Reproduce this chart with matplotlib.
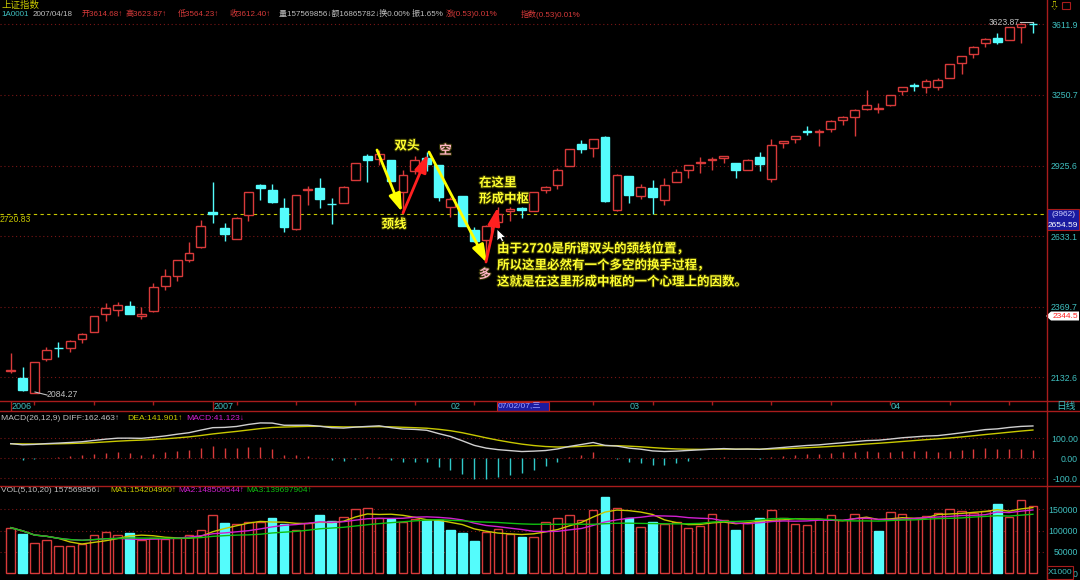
# 上证指数 日线 + MACD + VOL
import numpy as np
import pandas as pd
import matplotlib
matplotlib.use('Agg')
import matplotlib.pyplot as plt
from matplotlib.patches import Rectangle, Polygon
import matplotlib.patheffects as pe

plt.rcParams['font.family'] = ['Liberation Sans', 'Noto Sans CJK SC', 'DejaVu Sans']

# 2006/12/07 ~ 2007/04/18, 87 trading days
opens = [2152, 2132, 2084.27, 2193, 2229, 2229, 2260, 2282, 2345, 2359,
         2374, 2338, 2354, 2443, 2482, 2542, 2589, 2731, 2666, 2622,
         2716, 2841, 2820, 2748, 2660, 2822, 2831, 2764, 2766, 2863,
         2967, 2955, 2948, 2811, 2901, 2960, 2929, 2752, 2794, 2657,
         2617, 2690, 2733, 2744, 2734, 2821, 2841, 2925, 3020, 3005,
         3054, 2737, 2880, 2796, 2831, 2780, 2855, 2905, 2938, 2948,
         2958, 2937, 2908, 2965, 2866, 3025, 3046, 3082, 3076, 3090,
         3131, 3144, 3182, 3184, 3200, 3268, 3298, 3288, 3288, 3334,
         3407, 3457, 3510, 3541, 3527, 3600, 3614.68]
highs = [2211, 2166, 2183, 2232, 2247, 2254, 2279, 2337, 2384, 2386,
         2392, 2368, 2456, 2508, 2541, 2611, 2699, 2853, 2685, 2708,
         2813, 2846, 2845, 2787, 2800, 2838, 2871, 2787, 2836, 2936,
         2975, 2996, 2950, 2908, 2967, 2985, 2930, 2791, 2796, 2671,
         2676, 2752, 2752, 2752, 2812, 2837, 2915, 3000, 3038, 3045,
         3056, 2891, 2881, 2848, 2862, 2870, 2912, 2929, 2965, 2965,
         2968, 2938, 2953, 2984, 3043, 3036, 3059, 3103, 3090, 3129,
         3151, 3185, 3277, 3213, 3252, 3291, 3307, 3328, 3336, 3403,
         3447, 3498, 3537, 3566, 3597, 3617, 3623.87]
lows = [2147, 2089, 2084.27, 2185, 2200, 2215, 2244, 2281, 2320, 2337,
        2343, 2326, 2353, 2429, 2464, 2534, 2588, 2687, 2616, 2621,
        2692, 2777, 2766, 2650, 2659, 2760, 2748, 2682, 2765, 2862,
        2855, 2929, 2858, 2727, 2891, 2900, 2776, 2711, 2672, 2611,
        2550, 2688, 2692, 2706, 2733, 2807, 2824, 2924, 2983, 2964,
        2769, 2735, 2765, 2783, 2721, 2757, 2854, 2873, 2894, 2905,
        2937, 2873, 2907, 2901, 2855, 3005, 3024, 3063, 3012, 3075,
        3108, 3059, 3180, 3162, 3199, 3251, 3268, 3260, 3277, 3333,
        3353, 3434, 3490, 3506, 3526, 3514, 3564.23]
closes = [2155, 2094, 2182, 2222, 2227, 2252, 2277, 2336, 2366, 2376,
          2345, 2346, 2439, 2482, 2540, 2568, 2675, 2721, 2641, 2706,
          2811, 2831, 2772, 2668, 2799, 2826, 2783, 2762, 2835, 2935,
          2952, 2978, 2860, 2883, 2948, 2934, 2790, 2785, 2674, 2613,
          2675, 2720, 2741, 2736, 2811, 2835, 2908, 2998, 3000, 3043,
          2776, 2883, 2799, 2835, 2790, 2842, 2898, 2928, 2941, 2956,
          2967, 2908, 2952, 2933, 3017, 3035, 3058, 3076, 3079, 3128,
          3144, 3177, 3200, 3186, 3251, 3290, 3295, 3321, 3324, 3402,
          3446, 3493, 3532, 3520, 3595, 3611.87, 3612.40]
# 成交量 (x1000)
volumes = [106600, 91800, 70000, 77800, 63100, 63100, 68500, 88700, 97300, 88700,
           93400, 77800, 81700, 79400, 81700, 88700, 100400, 135400, 116700, 114400,
           119100, 120600, 128400, 115200, 100400, 116700, 136200, 123000, 132300, 149500,
           152600, 130000, 126100, 119100, 126100, 124500, 124500, 101200, 93400, 75500,
           97300, 102700, 91800, 85600, 84100, 120000, 129000, 136000, 124500, 148000,
           178000, 152500, 129000, 108000, 120000, 115000, 120000, 106000, 110000, 138000,
           124500, 101000, 117500, 129000, 148000, 129000, 115000, 112000, 128000, 136000,
           124000, 138000, 130000, 100000, 144000, 138000, 130000, 135000, 140000, 150000,
           145000, 142000, 145600, 161200, 132300, 171300, 157570]

# MACD state before the first visible day (read from the left edge of the MACD pane)
ema12_start, ema26_start, dea_start = 2085.0, 2012.0, 73.0

date_labels = ['2006', '2007', '02', '03', '04']
date_label_idx = [0, 17, 37, 52, 74]
week_idx = [2, 7, 12, 19, 24, 29, 34, 39, 44, 49, 54, 59, 64, 69, 74, 79, 84]
price_ticks = [3611.9, 3250.7, 2925.6, 2633.1, 2369.7, 2132.6]
macd_ticks = [100, 0, -100]
macd_tick_labels = ['100.00', '0.00', '-100.0']
vol_ticks = [150000, 100000, 50000, 0]
neck_line = 2720.83

W, H = 1080, 580
RED = '#d83a3a'
CYAN = '#54fcfc'
GRID = '#7a1616'
FRAME = '#a81c1c'
TEAL = '#3fbfbf'
YEL = '#c8c800'
GREY = '#c0c0c0'
XL = (-0.9, 87.1)

n = len(closes)
idx = np.arange(n)


def rect(x0, y0, x1, y1):
    return [x0 / W, 1 - y1 / H, (x1 - x0) / W, (y1 - y0) / H]


def fp(x, y):
    return (x / W, 1 - y / H)


fig = plt.figure(figsize=(W / 100, H / 100), dpi=100, facecolor='black')


def make_ax(box):
    ax = fig.add_axes(rect(*box))
    ax.set_facecolor('black')
    for s in ax.spines.values():
        s.set_visible(False)
    ax.set_xlim(*XL)
    ax.set_xticks([])
    ax.yaxis.tick_right()
    ax.tick_params(axis='y', which='both', length=0, pad=23, labelsize=6.3, labelcolor=TEAL)
    return ax


def right_labels(ax, ticks, labels):
    ax.set_yticks(ticks)
    ax.set_yticklabels(labels)
    for t in ax.get_yticklabels():
        t.set_horizontalalignment('right')


# ---------------- K线 ----------------
ax_p = make_ax((0, 19, 1046, 400))
ax_p.set_yscale('log')
ax_p.set_ylim(2062, 3640.6)
ax_p.yaxis.set_minor_locator(matplotlib.ticker.NullLocator())
right_labels(ax_p, price_ticks, ['%.1f' % v for v in price_ticks])
for v in price_ticks:
    ax_p.axhline(v, color=GRID, lw=0.8, ls=(0, (1, 2.5)), zorder=0)
ax_p.axhline(neck_line, color=YEL, lw=0.8, ls=(0, (3, 3)), zorder=1)

up = [c >= o for o, c in zip(opens, closes)]
ax_p.vlines(idx, lows, highs, colors=[RED if u else CYAN for u in up], lw=1, zorder=2)
for i in idx:
    o, c = opens[i], closes[i]
    bottom = min(o, c)
    hgt = max(abs(c - o), 0.6)
    if up[i]:
        ax_p.add_patch(Rectangle((i - 0.37, bottom), 0.74, hgt, facecolor='black',
                                 edgecolor=RED, lw=1, zorder=3))
    else:
        ax_p.add_patch(Rectangle((i - 0.37, bottom), 0.74, hgt, facecolor=CYAN,
                                 edgecolor=CYAN, lw=1, zorder=3))

# ---------------- 日期条 ----------------
ax_d = make_ax((0, 401, 1046, 411))
ax_d.set_ylim(0, 1)
ax_d.set_yticks([])
ax_d.vlines(week_idx, 0.6, 1, color=FRAME, lw=1)
ax_d.vlines([0, 17], 0, 1, color=FRAME, lw=1)
for lab, i in zip(date_labels, date_label_idx):
    ax_d.text(i + 0.05, 0.45, lab, color=TEAL, fontsize=6.5, ha='left', va='center')

# ---------------- MACD ----------------
def ema(vals, span, start):
    out, prev = [], start
    for v in vals:
        prev = (2 * v + (span - 1) * prev) / (span + 1)
        out.append(prev)
    return np.array(out)


diff = ema(closes, 12, ema12_start) - ema(closes, 26, ema26_start)
dea = ema(diff, 9, dea_start)
macd = 2 * (diff - dea)

ax_m = make_ax((0, 411, 1046, 485))
ax_m.set_ylim(-133.5, 236.5)
right_labels(ax_m, macd_ticks, macd_tick_labels)
for v in macd_ticks:
    ax_m.axhline(v, color=GRID, lw=0.8, ls=(0, (1, 2.5)), zorder=0)
ax_m.vlines(idx, 0, macd, colors=[RED if m >= 0 else '#30c8c8' for m in macd], lw=1)
ax_m.plot(idx, dea, color=YEL, lw=1)
ax_m.plot(idx, diff, color='#d0d0d0', lw=1)

# ---------------- VOL ----------------
ax_v = make_ax((0, 486, 1046, 580))
ax_v.set_ylim(-15650, 204000)
right_labels(ax_v, vol_ticks, [str(v) for v in vol_ticks])
for v in vol_ticks[:-1]:
    ax_v.axhline(v, color=GRID, lw=0.8, ls=(0, (1, 2.5)), zorder=0)
vol_up = [True] + [closes[i] >= closes[i - 1] for i in range(1, n)]
ax_v.bar(idx, volumes, width=0.72, bottom=0,
         facecolor=['black' if u else CYAN for u in vol_up],
         edgecolor=[RED if u else CYAN for u in vol_up], lw=1, zorder=2)
vs = pd.Series(volumes, dtype=float)
ax_v.plot(idx, vs.rolling(5, min_periods=1).mean(), color=YEL, lw=1, zorder=3)
ax_v.plot(idx, vs.rolling(10, min_periods=1).mean(), color='#d020d0', lw=1, zorder=3)
ax_v.plot(idx, vs.rolling(20, min_periods=1).mean(), color='#10c010', lw=1, zorder=3)

# ---------------- 框线 ----------------
def fline(x0, y0, x1, y1, color=FRAME, lw=1.0):
    fig.add_artist(plt.Line2D([x0 / W, x1 / W], [1 - y0 / H, 1 - y1 / H],
                              transform=fig.transFigure, color=color, lw=lw))


def poly(pts, **kw):
    fig.add_artist(Polygon([fp(x, y) for x, y in pts], closed=True,
                           transform=fig.transFigure, **kw))


fline(1046.5, 0, 1046.5, 580)
fline(0, 401, 1080, 401)
fline(0, 411, 1080, 411)
fline(0, 486, 1080, 486)

# 表头
def ftext(x, y, s, color, size=5.8, **kw):
    fig.text(x / W, 1 - y / H, s, color=color, fontsize=size, va='center', ha=kw.pop('ha', 'left'), **kw)


ftext(1, 5, '上证指数', YEL, size=6.8)
head = [('1A0001', TEAL, 1), ('2007/04/18', GREY, 33), ('开3614.68↑', RED, 82),
        ('高3623.87↑', RED, 126), ('低3564.23↑', RED, 178), ('收3612.40↑', RED, 230),
        ('量157569856↓额16865782↓换0.00% 振1.65%', GREY, 279),
        ('涨(0.53)0.01%', RED, 446), ('指数(0.53)0.01%', RED, 521)]
for s, c, x in head:
    ftext(x, 14, s, c)
ftext(1050, 6, '⇩', '#e0e000', size=6.5)
poly([(1062, 2), (1070, 2), (1070, 9), (1062, 9)], facecolor='none', edgecolor=FRAME, lw=0.8)

ftext(1, 418, 'MACD(26,12,9) DIFF:162.463↑', GREY, size=6.1)
ftext(127, 418, 'DEA:141.901↑', YEL, size=6.1)
ftext(186, 418, 'MACD:41.123↓', '#d020d0', size=6.1)
ftext(1, 491, 'VOL(5,10,20) 157569856↓', GREY, size=6.0)
ftext(110, 491, 'MA1:154204960↑', YEL, size=6.0)
ftext(178, 491, 'MA2:148506544↑', '#d020d0', size=6.0)
ftext(246, 491, 'MA3:139697904↑', '#10c010', size=6.0)

# 价格标注
ftext(0, 219.5, '2720.83', YEL, size=6.2)
ftext(1020, 22.5, '3623.87', GREY, size=6.2, ha='right')
fline(1020, 22, 1033, 22, color=GREY, lw=0.8)
ftext(47, 394.5, '2084.27', GREY, size=6.2)
fline(35, 392, 47, 395, color=GREY, lw=0.8)

poly([(1047, 209), (1079, 209), (1079, 230), (1047, 230)], facecolor='#1a1aa0', edgecolor=FRAME, lw=0.8)
ftext(1063, 214, '(3962)', '#d0d0ff', size=6, ha='center')
ftext(1063, 225, '2654.59', 'white', size=6, ha='center')
poly([(1046, 316), (1051, 311.5), (1079, 311.5), (1079, 320.5), (1051, 320.5)], facecolor='white', edgecolor='none')
ftext(1065, 316.2, '2344.5', '#ff2020', size=6.0, ha='center')

ftext(1056, 406, '日线', TEAL, size=7)
poly([(497, 401.5), (549, 401.5), (549, 410.5), (497, 410.5)], facecolor='#1a1aa0', edgecolor='#c02020', lw=0.8)
ftext(498, 406, '07/02/07,三', '#a0a0ff', size=6)
poly([(1047, 566), (1073, 566), (1073, 579), (1047, 579)], facecolor='none', edgecolor=FRAME, lw=0.8)
ftext(1060, 572.5, 'X1000', TEAL, size=6, ha='center')

# ---------------- 说明文字与箭头 ----------------
ANN = '#ffff30'
PINK = '#ffb4c4'


def note(x, y, s, color=ANN, ha='center'):
    fig.text(x / W, 1 - y / H, s, color=color, fontsize=9, fontweight='bold',
             family=['Noto Sans CJK SC', 'DejaVu Sans'], ha=ha, va='center',
             path_effects=[pe.withStroke(linewidth=1.5, foreground='#303000')])


def arrow(x1, y1, x2, y2, color):
    ax_p.annotate('', xy=(x2, H - y2), xytext=(x1, H - y1),
                  xycoords='figure pixels', textcoords='figure pixels',
                  arrowprops=dict(arrowstyle='-|>,head_length=0.9,head_width=0.3',
                                  color=color, lw=2, shrinkA=0, shrinkB=0, mutation_scale=12))


arrow(377, 150, 402, 212, '#ffff00')
arrow(403, 213, 428, 154, '#ff2020')
arrow(429, 152, 487, 263, '#ffff00')
arrow(486, 262, 498, 207, '#ff2020')

note(407, 146, '双头')
note(445.5, 150.5, '空', color=PINK)
note(394, 224.5, '颈线')
note(479, 183, '在这里', ha='left')
note(479, 199, '形成中枢', ha='left')
note(485, 274.5, '多', color=PINK)
note(497, 249, '由于2720是所谓双头的颈线位置，', ha='left')
note(497, 265.5, '所以这里必然有一个多空的换手过程，', ha='left')
note(497, 282, '这就是在这里形成中枢的一个心理上的因数。', ha='left')

# 鼠标指针
poly([(497, 229), (497, 241), (500, 238.5), (502.5, 243), (504.5, 242), (502, 237.5), (506, 237.5)],
     facecolor='white', edgecolor='black', lw=0.6)

fig.savefig('out.png', dpi=100, facecolor='black')
